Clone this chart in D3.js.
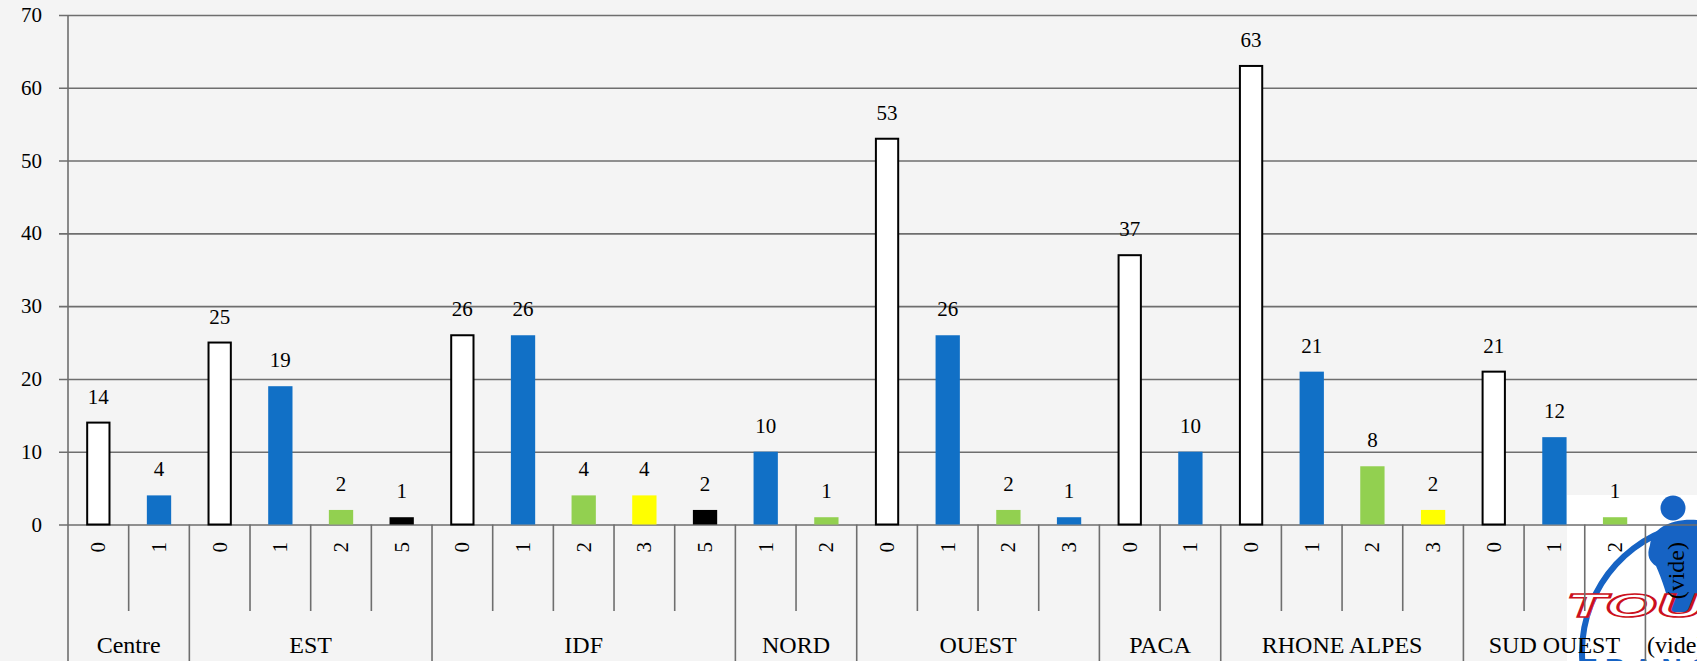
<!DOCTYPE html>
<html>
<head>
<meta charset="utf-8">
<script src="https://cdn.jsdelivr.net/npm/d3@7"></script>
<style>
  html, body { margin: 0; padding: 0; background: #f4f4f4; }
  svg { display: block; }
  text { font-family: "Liberation Serif", "DejaVu Serif", serif; fill: #000; }
</style>
</head>
<body>
<svg id="chart" width="1697" height="661"></svg>
<script>
// ---------- data ----------
const groupNames = ["Centre", "EST", "IDF", "NORD", "OUEST", "PACA", "RHONE ALPES", "SUD OUEST", "(vide)"];
const groupCodes = [
  ["0", "1"],
  ["0", "1", "2", "5"],
  ["0", "1", "2", "3", "5"],
  ["1", "2"],
  ["0", "1", "2", "3"],
  ["0", "1"],
  ["0", "1", "2", "3"],
  ["0", "1", "2"],
  ["(vide)"]
];
const groupValues = [
  [14, 4],
  [25, 19, 2, 1],
  [26, 26, 4, 4, 2],
  [10, 1],
  [53, 26, 2, 1],
  [37, 10],
  [63, 21, 8, 2],
  [21, 12, 1],
  [null]
];
const yTicks = [0, 10, 20, 30, 40, 50, 60, 70];

// ---------- styles ----------
const fillByCode = { "0": "#ffffff", "1": "#1170c6", "2": "#92d050", "3": "#ffff00", "5": "#000000" };
const fillOverride = { "OUEST|3": "#1170c6" };
const gridColor = "#6e6e6e";

// ---------- build leaf list ----------
const leaves = [];
groupNames.forEach((g, gi) => {
  groupCodes[gi].forEach((c, ci) => {
    leaves.push({ id: g + "|" + c, group: g, code: c, value: groupValues[gi][ci] });
  });
});

const svg = d3.select("#chart");
const W = 1697, H = 661;

const x0 = 68;
const leafW = 60.67;
const x = d3.scaleBand()
  .domain(leaves.map(d => d.id))
  .range([x0, x0 + leaves.length * leafW])
  .paddingInner(0).paddingOuter(0);

const y = d3.scaleLinear().domain([0, 70]).range([524.5, 15]);

// background
svg.append("rect").attr("width", W).attr("height", H).attr("fill", "#f4f4f4");

// ---------- logo (decoration, bottom right) ----------
const logoBlue = "#1663c4";
const logo = svg.append("g");
logo.append("rect").attr("x", 1567).attr("y", 495).attr("width", 130).attr("height", 166).attr("fill", "#ffffff");
logo.append("path")
  .attr("d", d3.arc()({ innerRadius: 127, outerRadius: 133, startAngle: -1.75, endAngle: -0.28 }))
  .attr("transform", "translate(1712,652)")
  .attr("fill", logoBlue);
logo.append("circle").attr("cx", 1673).attr("cy", 508).attr("r", 12.5).attr("fill", logoBlue);
logo.append("path")
  .attr("d", "M1650,545 C1652,528 1672,518 1697,520 L1697,612 L1670,612 C1668,596 1662,580 1656,566 C1650,562 1646,556 1650,545 Z")
  .attr("fill", logoBlue);
logo.append("text")
  .attr("transform", "translate(1566,617) scale(2,1)")
  .style("font-family", "'Liberation Sans', Arial, sans-serif")
  .style("font-weight", "bold").style("font-style", "italic")
  .style("font-size", "33px")
  .attr("stroke", "#cc1020").attr("stroke-width", 1.6)
  .style("fill", "#ffffff")
  .text("TOUCH");
logo.append("text")
  .attr("x", 1580).attr("y", 678)
  .style("font-family", "'Liberation Sans', Arial, sans-serif")
  .style("font-weight", "bold").style("font-size", "28px")
  .style("fill", logoBlue)
  .style("letter-spacing", "8px")
  .text("FRANCE");

// ---------- gridlines ----------
const grid = svg.append("g")
  .attr("transform", `translate(${x0},0)`)
  .call(d3.axisLeft(y).tickValues(yTicks).tickSize(-(W - x0 + 10)).tickSizeOuter(0).tickFormat(""));
grid.select(".domain").remove();
grid.selectAll(".tick line")
  .attr("x1", -9)
  .attr("stroke", gridColor).attr("stroke-width", 1.6);

// y tick labels
svg.append("g").selectAll("text")
  .data(yTicks).join("text")
  .attr("x", 42).attr("y", d => y(d))
  .attr("text-anchor", "end")
  .attr("dominant-baseline", "central")
  .style("font-size", "21px")
  .text(d => d);

// ---------- bars ----------
const bw = 24.3;
const bars = leaves.filter(d => d.value != null);
svg.append("g").selectAll("rect")
  .data(bars).join("rect")
  .attr("x", d => x(d.id) + (leafW - bw) / 2 + (d.code === "0" ? 1 : 0))
  .attr("width", d => d.code === "0" ? bw - 2 : bw)
  .attr("y", d => y(d.value))
  .attr("height", d => y(0) - y(d.value))
  .attr("fill", d => fillOverride[d.id] || fillByCode[d.code])
  .attr("stroke", d => d.code === "0" ? "#000" : "none")
  .attr("stroke-width", 2);

// value labels
svg.append("g").selectAll("text")
  .data(bars).join("text")
  .attr("x", d => x(d.id) + leafW / 2)
  .attr("y", d => y(d.value) - 19)
  .attr("text-anchor", "middle")
  .style("font-size", "21px")
  .text(d => d.value);

// ---------- category axis ----------
const axisY = y(0);
svg.append("line")
  .attr("x1", x0).attr("x2", x0).attr("y1", y(70)).attr("y2", H)
  .attr("stroke", gridColor).attr("stroke-width", 1.6);

// leaf separators
svg.append("g").selectAll("line")
  .data(leaves.slice(1)).join("line")
  .attr("x1", d => x(d.id)).attr("x2", d => x(d.id))
  .attr("y1", axisY).attr("y2", d => d.code === groupCodes[groupNames.indexOf(d.group)][0] ? H : 611)
  .attr("stroke", gridColor).attr("stroke-width", 1.6);

// leaf labels (rotated)
svg.append("g").selectAll("text")
  .data(leaves).join("text")
  .attr("transform", d => `translate(${x(d.id) + leafW / 2},542) rotate(-90)`)
  .attr("text-anchor", "end")
  .attr("dominant-baseline", "central")
  .style("font-size", d => d.code === "(vide)" ? "24px" : "21px")
  .text(d => d.code);

// group labels
const groupSpans = groupNames.map((g, gi) => {
  const ls = leaves.filter(d => d.group === g);
  return { name: g, start: x(ls[0].id), end: x(ls[ls.length - 1].id) + leafW };
});
svg.append("g").selectAll("text")
  .data(groupSpans).join("text")
  .attr("x", d => (d.start + d.end) / 2)
  .attr("y", 653)
  .attr("text-anchor", "middle")
  .style("font-size", "24px")
  .text(d => d.name);
</script>
</body>
</html>
